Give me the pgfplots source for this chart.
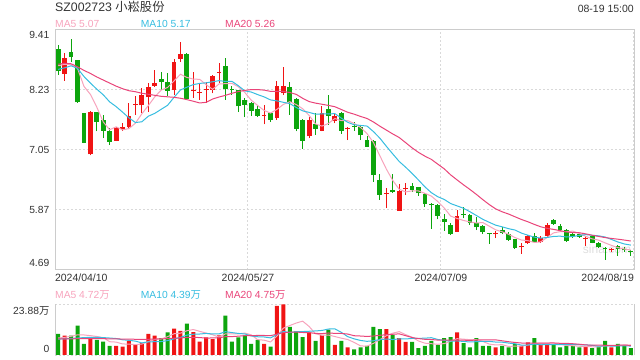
\documentclass[border=0pt]{standalone}
\usepackage{pgfplots}
\pgfplotsset{compat=1.18}
\usepackage{pgfplotstable}
\usepackage{fontspec}
\setmainfont{Liberation Sans}
\newfontfamily\cjk{Noto Sans CJK SC}
\newcommand\fs[1]{\fontsize{#1bp}{#1bp}\selectfont}
\definecolor{upc}{HTML}{F01414}
\definecolor{dnc}{HTML}{0DA50D}
\definecolor{ma5c}{HTML}{F7A3BC}
\definecolor{ma10c}{HTML}{37BDE0}
\definecolor{ma20c}{HTML}{E94479}
\definecolor{txt}{HTML}{333333}
\definecolor{gridc}{HTML}{D9D9D9}
\definecolor{framec}{HTML}{CCCCCC}

\pgfplotstableread{
i o h l c v
1 8.545 8.95 8.41 8.85 9.1
5 6.96 7.82 6.94 7.80 8.4
9 7.23 7.50 7.22 7.48 4.3
10 7.46 7.57 7.42 7.50 4.0
11 7.49 7.97 7.45 7.72 6.8
12 7.93 8.10 7.74 7.95 5.1
13 7.92 8.26 7.77 8.13 5.6
14 8.08 8.36 7.80 8.28 10.0
15 8.31 8.62 8.29 8.36 9.1
18 8.22 8.83 8.13 8.77 12.4
19 8.84 9.17 8.77 8.94 11.4
21 8.20 8.58 8.07 8.22 10.8
22 8.17 8.36 8.03 8.19 6.3
23 8.22 8.39 7.97 8.24 8.3
24 8.23 8.52 8.16 8.49 7.5
25 8.56 8.75 8.36 8.58 9.2
32 7.72 7.93 7.55 7.74 5.2
34 7.67 8.41 7.64 8.30 23.1
35 8.16 8.67 8.13 8.30 23.9
39 7.31 7.70 7.28 7.64 10.6
41 7.42 7.90 7.41 7.78 9.5
43 7.61 7.77 7.57 7.72 4.8
45 7.45 7.50 7.24 7.47 3.6
51 6.18 6.29 5.90 6.20 12.2
53 5.85 6.38 5.85 6.24 7.9
54 6.27 6.39 6.16 6.29 6.2
62 5.44 5.86 5.44 5.75 10.6
68 5.39 5.45 5.31 5.41 3.6
72 5.13 5.21 5.00 5.15 4.3
73 5.21 5.37 5.20 5.35 5.9
75 5.24 5.35 5.22 5.32 4.8
76 5.36 5.60 5.34 5.57 4.8
82 5.29 5.35 5.16 5.31 4.0
86 5.07 5.11 5.04 5.09 3.6
}\upT

\pgfplotstableread{
i o h l c v
0 9.04 9.10 8.52 8.59 10.0
2 8.97 9.23 8.77 8.87 9.1
3 8.81 8.82 7.97 7.98 13.8
4 7.77 7.78 7.18 7.19 5.2
6 7.79 7.80 7.41 7.59 7.1
7 7.63 7.74 7.28 7.42 6.3
8 7.42 7.48 7.14 7.21 4.3
16 8.44 8.58 8.23 8.39 7.9
17 8.39 8.56 8.10 8.21 10.6
20 8.93 8.95 8.03 8.05 14.8
26 8.69 8.85 8.03 8.24 18.6
27 8.25 8.30 8.13 8.23 6.3
28 8.22 8.23 7.79 7.90 8.3
29 8.03 8.07 7.69 7.93 9.2
30 7.97 7.98 7.71 7.82 5.2
31 7.85 7.93 7.69 7.72 7.1
33 7.77 7.78 7.59 7.64 4.0
36 8.28 8.38 7.74 7.99 13.2
37 8.05 8.06 7.41 7.46 11.1
38 7.64 7.66 7.07 7.23 8.4
40 7.55 7.77 7.34 7.46 6.7
42 7.85 8.12 7.54 7.72 11.9
44 7.78 7.80 7.36 7.42 6.7
46 7.52 7.60 7.42 7.50 2.7
47 7.49 7.52 7.24 7.33 3.6
48 7.25 7.32 7.10 7.11 4.3
49 7.22 7.24 6.42 6.55 13.2
50 6.45 6.57 6.07 6.16 12.2
52 6.26 6.57 6.20 6.21 9.5
55 6.34 6.40 6.22 6.26 6.2
56 6.31 6.32 6.14 6.19 3.2
57 6.18 6.20 5.93 5.98 4.3
58 5.99 6.00 5.50 5.97 6.7
59 5.96 5.98 5.68 5.75 4.8
60 5.68 5.79 5.46 5.63 7.9
61 5.57 5.60 5.37 5.39 8.4
63 5.79 5.93 5.70 5.77 5.6
64 5.77 5.78 5.57 5.61 3.6
65 5.60 5.73 5.47 5.52 7.9
66 5.55 5.56 5.39 5.44 4.3
67 5.41 5.41 5.20 5.39 4.3
69 5.47 5.52 5.39 5.42 4.3
70 5.39 5.44 5.26 5.27 3.6
71 5.29 5.30 5.10 5.12 5.2
74 5.36 5.42 5.22 5.24 7.9
77 5.67 5.69 5.57 5.59 4.8
78 5.55 5.59 5.44 5.47 3.6
79 5.48 5.50 5.24 5.25 4.3
80 5.40 5.42 5.32 5.36 4.3
81 5.39 5.40 5.32 5.34 3.6
83 5.36 5.37 5.21 5.22 3.2
84 5.21 5.24 5.11 5.13 4.0
85 5.11 5.13 4.89 5.09 6.7
87 5.16 5.17 4.96 5.09 5.2
88 5.10 5.13 5.04 5.08 4.3
89 5.06 5.07 4.96 5.03 3.2
}\dnT

\pgfplotstableread{
i m5 m10 m20 vm5 vm10 vm20
0 8.70 8.63 8.73 8.0 7.5 7.6
1 8.73 8.66 8.75 8.3 7.6 7.6
2 8.72 8.70 8.74 8.8 7.8 7.6
3 8.65 8.65 8.68 9.5 8.0 7.7
4 8.296 8.49 8.61 9.44 8.2 7.7
5 8.138 8.36 8.55 9.12 8.3 7.7
6 7.886 8.24 8.48 8.72 8.3 7.7
7 7.596 8.13 8.42 8.16 8.2 7.7
8 7.442 7.99 8.36 6.26 8.0 7.6
9 7.50 7.898 8.30 6.08 7.76 7.6
10 7.44 7.789 8.25 5.2 7.16 7.5
11 7.466 7.676 8.21 5.14 6.93 7.5
12 7.572 7.584 8.19 4.9 6.53 7.4
13 7.756 7.599 8.16 5.16 5.71 7.4
14 7.916 7.708 8.14 6.3 6.19 7.4
15 8.088 7.764 8.12 7.32 6.26 7.5
16 8.222 7.844 8.10 7.54 6.34 7.6
17 8.274 7.923 8.09 8.64 6.77 7.7
18 8.402 8.079 8.08 10.0 7.58 7.9
19 8.534 8.225 8.062 10.28 8.29 8.03
20 8.472 8.28 8.035 11.42 9.37 8.27
21 8.438 8.33 8.003 12.0 9.77 8.35
22 8.434 8.354 7.969 11.14 9.89 8.21
23 8.328 8.365 7.982 10.32 10.16 7.94
24 8.238 8.386 8.047 9.54 9.91 8.05
25 8.344 8.408 8.086 8.42 9.92 8.09
26 8.348 8.393 8.119 9.98 10.99 8.67
27 8.356 8.395 8.159 9.98 10.56 8.67
28 8.288 8.308 8.194 9.98 10.15 8.87
29 8.176 8.207 8.216 10.32 9.93 9.11
30 8.024 8.184 8.232 9.52 8.97 9.17
31 7.92 8.134 8.232 7.22 8.6 9.19
32 7.822 8.089 8.222 7.0 8.49 9.19
33 7.77 8.029 8.197 6.14 8.06 9.11
34 7.844 8.01 8.198 8.92 9.62 9.77
35 7.94 7.982 8.195 12.66 11.09 10.51
36 7.994 7.957 8.175 13.88 10.55 10.77
37 7.938 7.88 8.138 15.06 11.03 10.80
38 7.856 7.813 8.061 15.94 11.04 10.60
39 7.724 7.784 7.996 13.44 11.18 10.56
40 7.556 7.748 7.966 10.0 11.33 10.15
41 7.514 7.754 7.944 9.26 11.57 10.09
42 7.566 7.752 7.921 9.42 12.24 10.37
43 7.664 7.76 7.895 8.7 12.32 10.19
44 7.62 7.672 7.841 7.92 10.68 10.15
45 7.622 7.589 7.786 7.3 8.65 9.87
46 7.566 7.54 7.749 5.94 7.6 9.08
47 7.488 7.527 7.704 4.28 6.85 8.94
48 7.366 7.515 7.664 4.18 6.44 8.74
49 7.192 7.406 7.595 5.48 6.7 8.94
50 6.93 7.276 7.512 7.2 7.25 9.29
51 6.67 7.118 7.436 9.1 7.52 9.55
52 6.446 6.967 7.36 10.28 7.28 9.76
53 6.272 6.819 7.29 11.0 7.59 9.96
54 6.22 6.706 7.189 9.6 7.54 9.11
55 6.24 6.585 7.087 8.4 7.8 8.23
56 6.238 6.454 6.997 6.6 7.85 7.73
57 6.192 6.319 6.923 5.56 7.92 7.39
58 6.138 6.205 6.86 5.32 8.16 7.3
59 6.03 6.125 6.766 5.04 7.32 7.01
60 5.904 6.072 6.674 5.38 6.89 7.07
61 5.744 5.991 6.555 6.42 6.51 7.02
62 5.698 5.945 6.456 7.68 6.62 6.95
63 5.658 5.898 6.359 7.46 6.39 6.99
64 5.63 5.83 6.268 7.22 6.13 6.84
65 5.608 5.756 6.171 7.22 6.3 7.05
66 5.618 5.681 6.068 6.4 6.41 7.13
67 5.546 5.622 5.971 5.14 6.41 7.17
68 5.474 5.566 5.886 4.74 6.1 7.13
69 5.436 5.533 5.829 4.88 6.05 6.69
70 5.386 5.497 5.785 4.02 5.62 6.26
71 5.322 5.47 5.731 4.2 5.3 5.91
72 5.274 5.41 5.678 4.2 4.67 5.65
73 5.262 5.368 5.633 4.66 4.7 5.55
74 5.226 5.331 5.581 5.38 5.13 5.63
75 5.236 5.311 5.534 5.62 4.82 5.56
76 5.326 5.324 5.503 5.54 4.87 5.64
77 5.414 5.344 5.483 5.64 4.92 5.67
78 5.438 5.35 5.458 5.18 4.92 5.51
79 5.44 5.333 5.433 4.46 4.92 5.49
80 5.448 5.342 5.42 4.36 4.99 5.31
81 5.402 5.364 5.417 4.12 4.83 5.07
82 5.346 5.38 5.395 3.96 4.8 4.74
83 5.296 5.367 5.368 3.88 4.53 4.62
84 5.272 5.356 5.344 3.82 4.14 4.64
85 5.218 5.333 5.322 4.3 4.33 4.58
86 5.168 5.285 5.305 4.3 4.21 4.54
87 5.124 5.235 5.29 4.54 4.25 4.59
88 5.096 5.196 5.273 4.76 4.32 4.62
89 5.076 5.174 5.254 4.6 4.21 4.57
}\maT

\begin{document}
\begin{tikzpicture}
\useasboundingbox (0,0) rectangle (640bp,360bp);
\node[anchor=base west, inner sep=0, font=\fs{12.3}, text=txt] at (55bp,348bp) {SZ002723 {\cjk 小崧股份}};
\node[anchor=base east, inner sep=0, font=\fs{10.5}, text=txt] at (634bp,347.8bp) {08-19 15:00};
\node[anchor=base west, inner sep=0, font=\fs{10.3}, text=ma5c] at (55bp,332.4bp) {MA5 5.07};
\node[anchor=base west, inner sep=0, font=\fs{10.3}, text=ma10c] at (140.7bp,332.4bp) {MA10 5.17};
\node[anchor=base west, inner sep=0, font=\fs{10.3}, text=ma20c] at (225bp,332.4bp) {MA20 5.26};
\node[anchor=base west, inner sep=0, font=\fs{10.3}, text=ma5c] at (55bp,61.4bp) {MA5 4.72{\cjk 万}};
\node[anchor=base west, inner sep=0, font=\fs{10.3}, text=ma10c] at (140.7bp,61.4bp) {MA10 4.39{\cjk 万}};
\node[anchor=base west, inner sep=0, font=\fs{10.3}, text=ma20c] at (225bp,61.4bp) {MA20 4.75{\cjk 万}};
\node[inner sep=0, font=\fs{12}, text=black!13] at (607bp,111bp) {sina.com};

\begin{axis}[
  at={(55bp,90.3bp)}, anchor=south west,
  width=579bp, height=240bp, scale only axis,
  xmin=-0.5, xmax=89.5, ymin=4.69, ymax=9.41,
  axis line style={draw=framec, line width=0.8bp},
  tick style={draw=none}, major tick length=0pt,
  xtick={-0.5,29.5,59.5,89.5},
  xticklabels={\rlap{2024/04/10},2024/05/27,2024/07/09,\llap{2024/08/19}},
  ytick={4.69,5.87,7.05,8.23,9.41},
  yticklabels={\raisebox{6.7bp}{4.69},5.87,7.05,8.23,\raisebox{-5.3bp}{9.41}},
  xmajorgrids, ymajorgrids,
  grid style={draw=gridc, line width=1bp, dash pattern=on 2bp off 2bp},
  yticklabel style={anchor=base east, yshift=-3.7bp, xshift=-3.5bp, inner sep=2bp, font=\fs{10.3}, text=txt},
  xticklabel style={anchor=north, yshift=-4bp, inner sep=0pt, font=\fs{10.5}, text=txt},
]
% wicks
\addplot[draw=none, mark=none, error bars/.cd, y dir=plus, y explicit, error mark=none,
  error bar style={draw=upc, line width=1bp}]
  table[x=i, y=l, y error expr=\thisrow{h}-\thisrow{l}] {\upT};
\addplot[draw=none, mark=none, error bars/.cd, y dir=plus, y explicit, error mark=none,
  error bar style={draw=dnc, line width=1bp}]
  table[x=i, y=l, y error expr=\thisrow{h}-\thisrow{l}] {\dnT};
% bodies
\addplot[draw=none, mark=none, error bars/.cd, y dir=plus, y explicit, error mark=none,
  error bar style={draw=upc, line width=4.8bp}]
  table[x=i, y=o, y error expr=\thisrow{c}-\thisrow{o}] {\upT};
\addplot[draw=none, mark=none, error bars/.cd, y dir=plus, y explicit, error mark=none,
  error bar style={draw=dnc, line width=4.8bp}]
  table[x=i, y=c, y error expr=\thisrow{o}-\thisrow{c}] {\dnT};
% moving averages
\addplot[ma5c, line width=1bp, mark=none] table[x=i, y=m5] {\maT};
\addplot[ma10c, line width=1bp, mark=none] table[x=i, y=m10] {\maT};
\addplot[ma20c, line width=1bp, mark=none] table[x=i, y=m20] {\maT};
\end{axis}

\begin{axis}[
  at={(55bp,5bp)}, anchor=south west,
  width=579bp, height=50.7bp, scale only axis,
  xmin=-0.5, xmax=89.5, ymin=0, ymax=23.88,
  axis x line=none, axis y line=box,
  axis line style={draw=framec, line width=0.8bp},
  tick style={draw=none}, major tick length=0pt,
  xtick={29.5,59.5}, xticklabels={},
  ytick={0,23.88},
  yticklabels={\raisebox{6bp}{0},\raisebox{-6.7bp}{23.88{\cjk 万}}},
  xmajorgrids, ymajorgrids,
  grid style={draw=gridc, line width=1bp, dash pattern=on 2bp off 2bp},
  yticklabel style={anchor=base east, yshift=-3.7bp, xshift=-3.5bp, inner sep=2bp, font=\fs{10.3}, text=txt},
]
\addplot[ybar, bar width=4bp, bar shift=0pt, fill=upc, draw=none] table[x=i, y=v] {\upT};
\addplot[ybar, bar width=4bp, bar shift=0pt, fill=dnc, draw=none] table[x=i, y=v] {\dnT};
\addplot[ma5c, line width=1bp, mark=none] table[x=i, y=vm5] {\maT};
\addplot[ma10c, line width=1bp, mark=none] table[x=i, y=vm10] {\maT};
\addplot[ma20c, line width=1bp, mark=none] table[x=i, y=vm20] {\maT};
\end{axis}
\end{tikzpicture}
\end{document}
